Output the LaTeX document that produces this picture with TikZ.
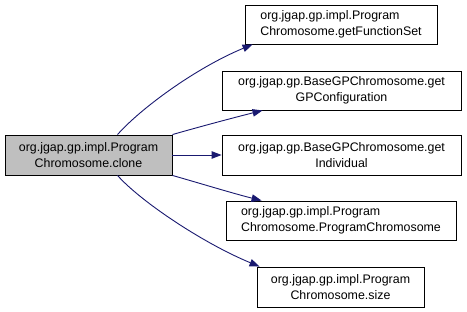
\documentclass[tikz,border=0pt]{standalone}
\usepackage{fontspec}
\setmainfont{Liberation Sans}
\usetikzlibrary{arrows.meta,calc}
\definecolor{edgeblue}{HTML}{191970}
\definecolor{focusgrey}{HTML}{BFBFBF}
\begin{document}
\begin{tikzpicture}[x=1pt,y=-1pt,
  fnbox/.style={draw=black,line width=0.9pt,fill=white,inner sep=0pt,
    align=center,font=\fontsize{12.4}{15.5}\selectfont},
  focusbox/.style={fnbox,fill=focusgrey},
  call/.style={draw=edgeblue,line width=0.9pt,
    -{Triangle[length=10pt,width=7.5pt]},fill=none}]
\useasboundingbox (0,0) rectangle (467,312);

% caller
\node[focusbox,minimum width=167pt,minimum height=40pt] (src) at (88.5,155)
  {org.jgap.gp.impl.Program\\Chromosome.clone};

% callees
\node[fnbox,align=left,minimum width=192pt,minimum height=39pt] (b1) at (341,24.5)
  {org.jgap.gp.impl.Program\\Chromosome.getFunctionSet};
\node[fnbox,minimum width=239pt,minimum height=39pt] (b2) at (341.5,90.5)
  {org.jgap.gp.BaseGPChromosome.get\\GPConfiguration};
\node[fnbox,minimum width=239pt,minimum height=40pt] (b3) at (341.5,155)
  {org.jgap.gp.BaseGPChromosome.get\\Individual};
\node[fnbox,align=left,minimum width=230pt,minimum height=39pt] (b4) at (341,220.5)
  {org.jgap.gp.impl.Program\\Chromosome.ProgramChromosome};
\node[fnbox,minimum width=167pt,minimum height=40pt] (b5) at (340.5,287)
  {org.jgap.gp.impl.Program\\Chromosome.size};

% call edges
\draw[call] ($(src.north west)+(113,0)$) .. controls +(22,-25) and +(-58,24) .. ($(b1.south west)+(8,0)$);
\draw[call] (src.north east) .. controls +(28,-8) and +(-28,7) .. ($(b2.south west)+(41,0)$);
\draw[call] (src.east) -- (b3.west);
\draw[call] (src.south east) .. controls +(28,8) and +(-28,-7) .. ($(b4.north west)+(36,0)$);
\draw[call] ($(src.south west)+(113,0)$) .. controls +(22,25) and +(-58,-24) .. ($(b5.north west)+(3,0)$);
\end{tikzpicture}
\end{document}
